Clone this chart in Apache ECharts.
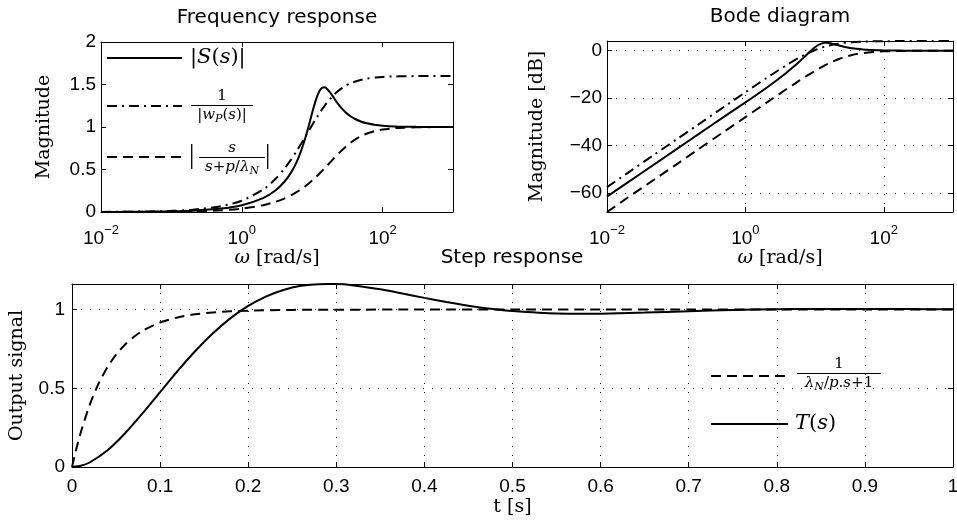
<!DOCTYPE html>
<html><head><meta charset="utf-8">
<script src="https://cdn.jsdelivr.net/npm/echarts@6/dist/echarts.min.js"></script>
<style>html,body{margin:0;padding:0;background:#fff}#c{width:957px;height:527px}</style>
</head><body><div id="c"></div>
<script>
// ---------- data ----------
const omega = [0.01,0.02,0.05,0.1,0.2,0.5,1,2,3,4,5,6,7,8,9,10,11,12,13,14,15,16,18,20,22,25,30,35,40,50,60,80,100,150,200,300,500,1000];
const magS = [0.0008,0.0016,0.004,0.008,0.016,0.0401,0.0805,0.1641,0.2538,0.3526,0.4630,0.5870,0.7246,0.8727,1.024,1.168,1.290,1.382,1.438,1.464,1.467,1.454,1.406,1.351,1.301,1.240,1.171,1.126,1.097,1.062,1.043,1.024,1.016,1.007,1.004,1.002,1.001,1.000];
const magInvWp = [0.0013,0.0027,0.0067,0.0133,0.0267,0.0666,0.1329,0.2630,0.3881,0.5060,0.6154,0.7155,0.8062,0.8875,0.960,1.024,1.081,1.131,1.176,1.215,1.249,1.280,1.331,1.372,1.405,1.442,1.486,1.514,1.533,1.556,1.569,1.582,1.589,1.595,1.597,1.599,1.5996,1.600];
const magN = [0.0004,0.0008,0.002,0.004,0.008,0.02,0.0400,0.0797,0.1192,0.1580,0.1961,0.2334,0.2696,0.3048,0.3387,0.3714,0.4027,0.4327,0.4614,0.4886,0.5145,0.5390,0.5843,0.6247,0.6606,0.7071,0.7682,0.8137,0.8480,0.8944,0.9231,0.9545,0.9701,0.9864,0.9923,0.9965,0.9988,0.9997];
const dbS = [-61.5,-55.5,-47.6,-41.6,-35.6,-27.7,-21.8,-15.7,-11.9,-9.05,-6.69,-4.63,-2.80,-1.18,0.21,1.35,2.21,2.81,3.16,3.31,3.33,3.25,2.96,2.61,2.29,1.87,1.37,1.03,0.81,0.53,0.37,0.21,0.14,0.06,0.03,0.015,0.005,0.002];
const dbInvWp = [-57.5,-51.5,-43.5,-37.5,-31.5,-23.5,-17.5,-11.6,-8.22,-5.92,-4.22,-2.91,-1.87,-1.04,-0.35,0.21,0.68,1.07,1.41,1.69,1.93,2.14,2.49,2.75,2.95,3.18,3.44,3.60,3.71,3.84,3.91,3.99,4.02,4.05,4.07,4.077,4.08,4.08];
const dbN = [-68.0,-61.9,-54.0,-48.0,-41.9,-34.0,-28.0,-22.0,-18.5,-16.0,-14.2,-12.6,-11.4,-10.3,-9.40,-8.60,-7.90,-7.28,-6.72,-6.22,-5.77,-5.37,-4.67,-4.09,-3.60,-3.01,-2.29,-1.79,-1.43,-0.97,-0.70,-0.40,-0.26,-0.12,-0.07,-0.03,-0.01,0.0];
const timeT = [0,0.01,0.02,0.04,0.06,0.08,0.10,0.12,0.14,0.16,0.18,0.20,0.22,0.24,0.26,0.28,0.30,0.32,0.35,0.375,0.40,0.425,0.45,0.475,0.50,0.55,0.60,0.65,0.70,0.75,0.80,0.85,0.90,0.95,1.00];
const stepT = [0,0.0075,0.0286,0.1044,0.2127,0.3403,0.4757,0.6105,0.7367,0.8494,0.9455,1.0236,1.0827,1.1249,1.1508,1.1617,1.1620,1.1531,1.1287,1.1023,1.0744,1.0481,1.0248,1.0056,0.9911,0.9755,0.9741,0.9808,0.9895,0.9973,1.0019,1.0042,1.0041,1.0029,1.0014];
const timeN = [0,0.005,0.01,0.02,0.03,0.04,0.05,0.06,0.07,0.08,0.10,0.12,0.14,0.16,0.18,0.20,0.25,0.30,0.40,0.50,0.60,0.70,0.80,0.90,1.00];
const stepN = [0,0.1175,0.2212,0.3935,0.5276,0.6321,0.7135,0.7769,0.8262,0.8647,0.9179,0.9502,0.9698,0.9817,0.9889,0.9933,0.9981,0.9994,1.0,1.0,1.0,1.0,1.0,1.0,1.0];
const logTickExps = [-2, 0, 2];
const titles = ['Frequency response', 'Bode diagram', 'Step response'];

// ---------- helpers ----------
const SANS = 'Liberation Sans', SERIF = 'DejaVu Serif', MATH = 'DejaVu Serif';
const pairs = (xs, ys) => xs.map((x, i) => [x, ys[i]]);
const BLACK = '#000';
const DASH = [10, 6], DASHDOT = [10, 5, 2, 5];

function logFmt(v) {
  const e = Math.round(Math.log10(v));
  if (logTickExps.indexOf(e) < 0) return '';
  return '{b|10}{s|' + (e < 0 ? '\u2212' + (-e) : e) + '}';
}
const logRich = {
  b: {fontFamily: SANS, fontSize: 19, color: BLACK, lineHeight: 24, verticalAlign: 'bottom'},
  s: {fontFamily: SANS, fontSize: 13, color: BLACK, lineHeight: 13, verticalAlign: 'top'}
};
const lineS = {color: BLACK, width: 1};
const tick = {show: true, inside: true, length: 5, lineStyle: lineS};
const dotted = {show: true, lineStyle: {color: '#111', width: 1, type: [1, 8]}};
const nameStyle = {fontFamily: SERIF, fontSize: 19, color: BLACK};
const omegaName = '{w|\u03c9} {n|[rad/s]}';
const omegaRich = {
  w: {fontFamily: SERIF, fontSize: 19, fontStyle: 'italic', color: BLACK},
  n: {fontFamily: SERIF, fontSize: 19, color: BLACK}
};

function logX(grid, showGrid, withName) {
  return {
    gridIndex: grid, type: 'log', logBase: 100, min: 0.01, max: 1000,
    axisLine: {show: true, onZero: false, lineStyle: lineS}, axisTick: tick,
    axisLabel: {formatter: logFmt, rich: logRich, margin: 12, showMaxLabel: false},
    splitLine: showGrid ? dotted : {show: false},
    name: withName ? omegaName : '', nameLocation: 'middle', nameGap: 31,
    nameTextStyle: {fontFamily: SERIF, fontSize: 19, color: BLACK, rich: omegaRich}
  };
}
function mirrorX(grid, type, min, max) {
  const a = {gridIndex: grid, type, min, max, position: 'top',
    axisLine: {show: true, onZero: false, lineStyle: lineS}, axisTick: tick,
    axisLabel: {show: false}, splitLine: {show: false}};
  if (type === 'log') a.logBase = 100;
  if (type === 'value') a.interval = 0.1;
  return a;
}
function mirrorY(grid, min, max, extra) {
  return Object.assign({gridIndex: grid, type: 'value', min, max, position: 'right',
    axisLine: {show: true, onZero: false, lineStyle: lineS}, axisTick: tick,
    axisLabel: {show: false}, splitLine: {show: false}}, extra || {});
}
const lbl = (extra) => Object.assign({color: BLACK, fontFamily: SANS, fontSize: 19}, extra);

// math text rich styles
function mathRich(fs) {
  const lh = Math.round(fs * 1.25);
  return {
    u: {fontFamily: MATH, fontSize: fs, fill: BLACK, lineHeight: lh, verticalAlign: 'middle'},
    i: {fontFamily: MATH, fontSize: fs, fontStyle: 'italic', fill: BLACK, lineHeight: lh, verticalAlign: 'middle'},
    sub: {fontFamily: MATH, fontSize: Math.round(fs * 0.7), fontStyle: 'italic', fill: BLACK, lineHeight: Math.round(fs * 0.7), verticalAlign: 'bottom'},
    big: {fontFamily: 'Liberation Serif', fontSize: Math.round(fs * 1.7), fill: BLACK, lineHeight: Math.round(fs * 1.9), verticalAlign: 'middle'}
  };
}
function mtext(x, y, text, fs, align) {
  return {type: 'text', x, y, style: {text, rich: mathRich(fs), align: align || 'left', verticalAlign: 'middle'}};
}
function frac(cx, cy, w, num, den, fs) {
  return [
    mtext(cx, cy - 9, num, fs, 'center'),
    {type: 'line', shape: {x1: cx - w / 2, y1: cy + 0.5, x2: cx + w / 2, y2: cy + 0.5}, style: {stroke: BLACK, lineWidth: 1}},
    mtext(cx, cy + 10, den, fs, 'center')
  ];
}
function legLine(x1, x2, y, dash) {
  return {type: 'line', shape: {x1, y1: y, x2, y2: y}, style: {stroke: BLACK, lineWidth: 2, lineDash: dash || null}};
}
function title(x, y, t) {
  return {type: 'text', x, y, style: {text: t, font: '20px "DejaVu Sans"', fill: BLACK, align: 'center', verticalAlign: 'middle'}};
}

const graphics = [
  title(277, 18, titles[0]), title(780, 17, titles[1]), title(512, 258, titles[2]),
  // top-left legend
  legLine(107, 182, 58),
  mtext(190, 58, '{u||}{i|S}{u|(}{i|s}{u|)|}', 21),
  legLine(107, 182, 106, DASHDOT),
  ...frac(222, 105, 62, '{u|1}', '{u||}{i|w}{sub|P}{u|(}{i|s}{u|)|}', 15),
  legLine(107, 182, 157, DASH),
  mtext(189, 156, '{big||}', 16),
  ...frac(232, 157, 66, '{i|s}', '{i|s}{u|+}{i|p}{u|/}{i|\u03bb}{sub|N}', 15),
  mtext(265, 156, '{big||}', 16),
  // bottom legend
  legLine(711, 788, 376, DASH),
  ...frac(839, 373, 84, '{u|1}', '{i|\u03bb}{sub|N}{u|/}{i|p}{u|.}{i|s}{u|+1}', 15),
  legLine(711, 788, 424),
  mtext(795, 424, '{i|T}{u|(}{i|s}{u|)}', 21)
];

function ser(name, xi, data, dash) {
  return {name, type: 'line', xAxisIndex: xi, yAxisIndex: xi, data, showSymbol: false, symbol: 'none',
    smooth: 0.25, silent: true, lineStyle: {color: BLACK, width: 2, type: dash || 'solid'}, z: 3};
}

const option = {
  animation: false,
  backgroundColor: '#fff',
  grid: [
    {left: 101, top: 42, width: 352, height: 170, containLabel: false, outerBoundsMode: 'none'},
    {left: 607, top: 41, width: 346, height: 171, containLabel: false, outerBoundsMode: 'none'},
    {left: 72, top: 284, width: 881, height: 183, containLabel: false, outerBoundsMode: 'none'}
  ],
  xAxis: [
    logX(0, false, true), mirrorX(0, 'log', 0.01, 1000),
    logX(1, true, true), mirrorX(1, 'log', 0.01, 1000),
    {gridIndex: 2, type: 'value', min: 0, max: 1, interval: 0.1,
      axisLine: {show: true, onZero: false, lineStyle: lineS}, axisTick: tick,
      axisLabel: lbl({margin: 10}), splitLine: dotted,
      name: 't [s]', nameLocation: 'middle', nameGap: 31, nameTextStyle: nameStyle},
    mirrorX(2, 'value', 0, 1)
  ],
  yAxis: [
    {gridIndex: 0, type: 'value', min: 0, max: 2, interval: 0.5,
      axisLine: {show: true, onZero: false, lineStyle: lineS}, axisTick: tick,
      axisLabel: lbl({margin: 5}), splitLine: {show: false},
      name: 'Magnitude', nameLocation: 'middle', nameGap: 47, nameTextStyle: nameStyle},
    mirrorY(0, 0, 2, {interval: 0.5}),
    {gridIndex: 1, type: 'value', min: -68, max: 4.1, splitNumber: 3,
      axisLine: {show: true, onZero: false, lineStyle: lineS}, axisTick: tick,
      axisLabel: lbl({margin: 5, showMinLabel: false, showMaxLabel: false,
        formatter: v => (v % 20 === 0 ? String(v).replace('-', '\u2212') : '')}),
      splitLine: dotted,
      name: 'Magnitude [dB]', nameLocation: 'middle', nameGap: 60, nameTextStyle: nameStyle},
    mirrorY(1, -68, 4.1, {splitNumber: 3}),
    {gridIndex: 2, type: 'value', min: 0, max: 1.1625, interval: 0.5,
      axisLine: {show: true, onZero: false, lineStyle: lineS}, axisTick: tick,
      axisLabel: lbl({margin: 7, showMaxLabel: false}), splitLine: dotted,
      name: 'Output signal', nameLocation: 'middle', nameGap: 45, nameTextStyle: nameStyle},
    mirrorY(2, 0, 1.1625, {interval: 0.5})
  ],
  graphic: graphics,
  series: [
    ser('|S(s)|', 0, pairs(omega, magS)),
    ser('1/|wP(s)|', 0, pairs(omega, magInvWp), DASHDOT),
    ser('|s/(s+p/λN)|', 0, pairs(omega, magN), DASH),
    ser('|S(s)| dB', 2, pairs(omega, dbS)),
    ser('1/|wP(s)| dB', 2, pairs(omega, dbInvWp), DASHDOT),
    ser('|s/(s+p/λN)| dB', 2, pairs(omega, dbN), DASH),
    ser('1/(λN/p.s+1)', 4, pairs(timeN, stepN), DASH),
    ser('T(s)', 4, pairs(timeT, stepT))
  ]
};
const chart = echarts.init(document.getElementById('c'), null, {renderer: 'canvas'});
chart.setOption(option);
</script></body></html>
